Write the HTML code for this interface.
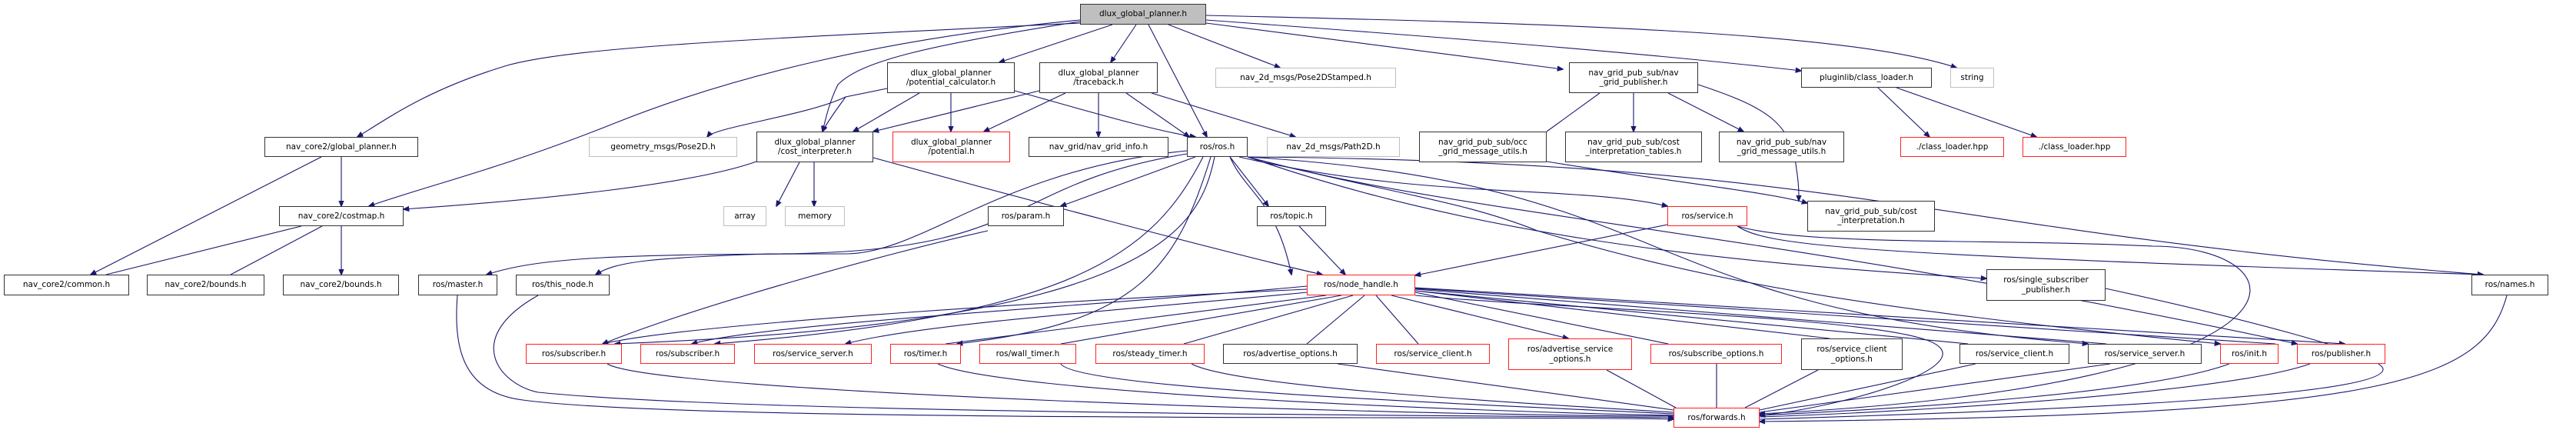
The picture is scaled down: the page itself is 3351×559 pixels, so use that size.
<!DOCTYPE html>
<html><head><meta charset="utf-8"><style>
body{margin:0;width:3351px;height:559px;background:#fff;position:relative;overflow:hidden;font-family:"DejaVu Sans","Liberation Sans",sans-serif;}
.n{position:absolute;box-sizing:border-box;border:1.5px solid #333;background:#fff;font-size:10.5px;line-height:12.5px;color:#000;display:flex;align-items:center;justify-content:center;text-align:center;white-space:pre;}
.r{border-color:#f22}
.g{border-color:#bfbfbf}
.m{background:#bfbfbf;border-color:#333}
svg{position:absolute;left:0;top:0}
path{fill:none;stroke:#191970;stroke-width:1.1}
</style></head><body>
<svg width="3351" height="559">
<defs><marker id="a" viewBox="0 0 10 10" refX="9" refY="5" markerWidth="8" markerHeight="8" orient="auto-start-reverse" markerUnits="userSpaceOnUse"><path d="M0,1 L10,5 L0,9z" style="fill:#191970;stroke:#191970"/></marker></defs>
<g marker-end="url(#a)">
<path d="M1405,30 C1000,50 750,60 660,85 C560,115 510,150 465,178"/>
<path d="M1405,26 C1150,50 950,100 800,160 C650,220 560,240 480,268"/>
<path d="M1405,28 C1200,60 1120,80 1090,110 C1080,130 1075,150 1070,171"/>
<path d="M1447,32 L1300,81"/>
<path d="M1478,32 L1445,81"/>
<path d="M1494,32 L1570,178"/>
<path d="M1520,32 L1665,88"/>
<path d="M1569,30 L2033,90"/>
<path d="M1569,26 C1900,50 2150,70 2343,92"/>
<path d="M1569,20 C2000,30 2400,40 2545,88"/>
<path d="M1154,115 L1100,126 C1090,140 1075,160 1070,171"/>
<path d="M1196,121 L1110,171"/>
<path d="M1237,121 L1237,171"/>
<path d="M1320,118 C1400,140 1500,170 1555,178"/>
<path d="M1352,118 L1136,171"/>
<path d="M1386,121 L1280,171"/>
<path d="M1429,121 L1429,178"/>
<path d="M1465,121 L1547,178"/>
<path d="M1498,121 L1685,178"/>
<path d="M1100,126 C1050,150 930,165 920,178"/>
<path d="M2081,121 L2012,171 M2125,121 L2125,171"/>
<path d="M2170,121 L2268,171"/>
<path d="M2209,110 C2300,140 2330,160 2337,220 C2340,240 2340,250 2340,261"/>
<path d="M2443,114 L2510,178"/>
<path d="M2467,114 L2649,178"/>
<path d="M444,204 L444,268"/>
<path d="M418,204 L118,357"/>
<path d="M984,210 C900,240 700,260 525,272"/>
<path d="M1040,211 L1010,268"/>
<path d="M1059,211 L1059,268"/>
<path d="M1136,205 C1300,250 1600,330 1720,357"/>
<path d="M2012,210 C2200,240 2300,250 2351,264"/>
<path d="M392,294 L138,357 M419,294 L300,357 M444,294 L444,357"/>
<path d="M1544,196 C1300,220 1200,330 1100,330 C800,330 700,335 633,357"/>
<path d="M1544,200 C1300,240 1350,330 1000,330 C850,335 800,340 775,357"/>
<path d="M1555,204 L1380,268"/>
<path d="M1600,204 L1650,268"/>
<path d="M1580,204 C1560,300 1500,420 800,447"/>
<path d="M1565,204 C1500,330 1400,410 930,447"/>
<path d="M1575,204 C1530,350 1480,420 1245,447"/>
<path d="M1600,204 C1620,250 1660,260 1680,357"/>
<path d="M1612,204 C1850,260 2050,240 2169,268"/>
<path d="M1623,204 C1800,250 1900,260 2000,300 C2200,360 2400,400 2888,447"/>
<path d="M1623,204 C1900,280 2300,300 2988,447"/>
<path d="M1623,204 C1900,300 2200,340 2584,362"/>
<path d="M1623,204 C2400,210 2500,300 3230,357"/>
<path d="M1623,204 C2200,240 2100,400 2716,447"/>
<path d="M1690,294 L1750,357"/>
<path d="M1285,300 C1150,330 900,400 784,447"/>
<path d="M2169,292 L1841,358"/>
<path d="M2260,294 C2300,320 2400,330 3230,357"/>
<path d="M2260,294 C2350,320 2600,310 2800,320 C3000,320 3050,500 2289,538"/>
<path d="M1700,376 C1400,390 900,420 784,447 M1700,372 C1400,400 1000,420 900,447"/>
<path d="M1700,380 C1500,400 1200,420 1100,447"/>
<path d="M1725,384 L1230,447 M1745,384 L1380,447 M1760,384 L1540,447 M1775,384 L1700,447 M1790,384 L1845,447 M1810,384 L2040,440"/>
<path d="M1841,380 L2170,447 M1841,378 L2380,440 M1841,378 L2560,447 M1841,376 L2740,447 M1841,375 L2960,447 M1841,374 L3050,447"/>
<path d="M1841,384 C2000,400 2400,410 2500,440 C2600,470 2400,530 2289,540"/>
<path d="M595,384 C590,450 600,510 680,520 C900,550 2000,540 2177,545"/>
<path d="M700,384 C600,440 650,500 700,510 C1000,540 2000,540 2177,543"/>
<path d="M790,473 C850,510 1800,540 2177,541 M1220,473 C1300,510 1900,535 2177,540 M1380,473 C1400,505 1900,525 2177,538 M1550,473 C1600,500 1900,520 2177,536 M1740,473 L2177,533 M2090,481 L2180,530 M2233,473 L2233,530 M2365,481 L2270,530 M2570,473 L2289,533 M2745,473 L2289,536 M2900,473 C2800,510 2500,530 2289,540 M3005,473 C2900,510 2500,535 2289,542 M2739,375 C2900,410 3100,460 3100,480 C3100,510 2800,530 2289,545 M3261,384 C3230,500 3100,540 2289,548"/>
</g>
</svg>
<div class="n m" style="left:1405px;top:5px;width:164px;height:27px">dlux_global_planner.h</div>
<div class="n" style="left:1154px;top:81px;width:166px;height:40px">dlux_global_planner
/potential_calculator.h</div>
<div class="n" style="left:1352px;top:81px;width:154px;height:40px">dlux_global_planner
/traceback.h</div>
<div class="n g" style="left:1581px;top:88px;width:235px;height:26px">nav_2d_msgs/Pose2DStamped.h</div>
<div class="n" style="left:2041px;top:81px;width:168px;height:40px">nav_grid_pub_sub/nav
_grid_publisher.h</div>
<div class="n" style="left:2343px;top:88px;width:170px;height:26px">pluginlib/class_loader.h</div>
<div class="n g" style="left:2537px;top:88px;width:57px;height:26px">string</div>
<div class="n" style="left:344px;top:178px;width:200px;height:26px">nav_core2/global_planner.h</div>
<div class="n g" style="left:766px;top:178px;width:193px;height:26px">geometry_msgs/Pose2D.h</div>
<div class="n" style="left:984px;top:171px;width:152px;height:40px">dlux_global_planner
/cost_interpreter.h</div>
<div class="n r" style="left:1161px;top:171px;width:153px;height:40px">dlux_global_planner
/potential.h</div>
<div class="n" style="left:1338px;top:178px;width:182px;height:26px">nav_grid/nav_grid_info.h</div>
<div class="n" style="left:1544px;top:178px;width:79px;height:26px">ros/ros.h</div>
<div class="n g" style="left:1648px;top:178px;width:173px;height:26px">nav_2d_msgs/Path2D.h</div>
<div class="n" style="left:1846px;top:171px;width:166px;height:40px">nav_grid_pub_sub/occ
_grid_message_utils.h</div>
<div class="n" style="left:2036px;top:171px;width:178px;height:40px">nav_grid_pub_sub/cost
_interpretation_tables.h</div>
<div class="n" style="left:2236px;top:171px;width:163px;height:40px">nav_grid_pub_sub/nav
_grid_message_utils.h</div>
<div class="n r" style="left:2472px;top:178px;width:135px;height:26px">./class_loader.hpp</div>
<div class="n r" style="left:2631px;top:178px;width:135px;height:26px">./class_loader.hpp</div>
<div class="n" style="left:363px;top:268px;width:162px;height:26px">nav_core2/costmap.h</div>
<div class="n g" style="left:941px;top:268px;width:56px;height:26px">array</div>
<div class="n g" style="left:1021px;top:268px;width:78px;height:26px">memory</div>
<div class="n" style="left:1285px;top:268px;width:99px;height:26px">ros/param.h</div>
<div class="n" style="left:1635px;top:268px;width:90px;height:26px">ros/topic.h</div>
<div class="n r" style="left:2169px;top:268px;width:104px;height:26px">ros/service.h</div>
<div class="n" style="left:2351px;top:261px;width:166px;height:40px">nav_grid_pub_sub/cost
_interpretation.h</div>
<div class="n" style="left:5px;top:357px;width:163px;height:27px">nav_core2/common.h</div>
<div class="n" style="left:191px;top:357px;width:153px;height:27px">nav_core2/bounds.h</div>
<div class="n" style="left:368px;top:357px;width:151px;height:27px">nav_core2/bounds.h</div>
<div class="n" style="left:544px;top:357px;width:103px;height:27px">ros/master.h</div>
<div class="n" style="left:671px;top:357px;width:122px;height:27px">ros/this_node.h</div>
<div class="n r" style="left:1700px;top:357px;width:141px;height:27px">ros/node_handle.h</div>
<div class="n" style="left:2584px;top:350px;width:155px;height:41px">ros/single_subscriber
_publisher.h</div>
<div class="n" style="left:3215px;top:357px;width:100px;height:27px">ros/names.h</div>
<div class="n r" style="left:684px;top:447px;width:125px;height:26px">ros/subscriber.h</div>
<div class="n r" style="left:833px;top:447px;width:123px;height:26px">ros/subscriber.h</div>
<div class="n r" style="left:981px;top:447px;width:153px;height:26px">ros/service_server.h</div>
<div class="n r" style="left:1158px;top:447px;width:92px;height:26px">ros/timer.h</div>
<div class="n r" style="left:1274px;top:447px;width:126px;height:26px">ros/wall_timer.h</div>
<div class="n r" style="left:1425px;top:447px;width:142px;height:26px">ros/steady_timer.h</div>
<div class="n" style="left:1591px;top:447px;width:175px;height:26px">ros/advertise_options.h</div>
<div class="n r" style="left:1790px;top:447px;width:148px;height:26px">ros/service_client.h</div>
<div class="n r" style="left:1962px;top:440px;width:161px;height:41px">ros/advertise_service
_options.h</div>
<div class="n r" style="left:2147px;top:447px;width:171px;height:26px">ros/subscribe_options.h</div>
<div class="n" style="left:2343px;top:440px;width:132px;height:41px">ros/service_client
_options.h</div>
<div class="n" style="left:2549px;top:447px;width:143px;height:26px">ros/service_client.h</div>
<div class="n" style="left:2716px;top:447px;width:148px;height:26px">ros/service_server.h</div>
<div class="n r" style="left:2888px;top:447px;width:76px;height:26px">ros/init.h</div>
<div class="n r" style="left:2988px;top:447px;width:115px;height:26px">ros/publisher.h</div>
<div class="n r" style="left:2177px;top:530px;width:112px;height:26px">ros/forwards.h</div>
</body></html>
